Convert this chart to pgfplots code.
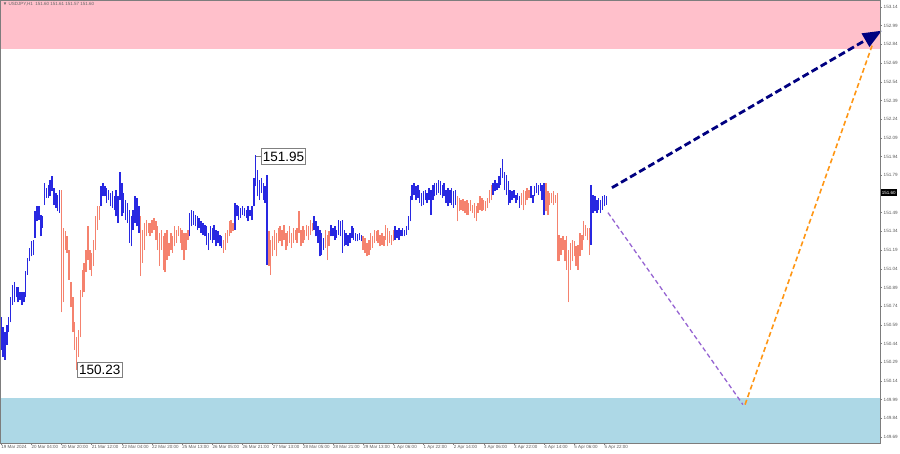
\documentclass[border=0pt]{standalone}
\usepackage{pgfplots}
\pgfplotsset{compat=1.18}
\usepackage{pgfplotstable}
\usepackage{fontspec}
\setmainfont{Liberation Sans}
\usetikzlibrary{arrows.meta}
\definecolor{barblue}{RGB}{40,40,225}
\definecolor{barsalmon}{RGB}{245,130,110}
\definecolor{zonepink}{RGB}{255,192,203}
\definecolor{zoneblue}{RGB}{173,216,230}
\definecolor{arrnavy}{RGB}{0,0,128}
\definecolor{arrpurple}{RGB}{150,100,210}
\definecolor{arrorange}{RGB}{255,150,20}
\definecolor{axgray}{RGB}{125,125,125}

\pgfplotstableread{
i l h
0 150.39 150.65
1 150.33 150.57
2 150.31 150.53
3 150.43 150.59
4 150.53 150.65
5 150.61 150.81
6 150.75 150.91
7 150.77 150.93
8 150.81 150.89
9 150.77 150.89
10 150.79 150.85
11 150.75 150.85
12 150.77 150.85
13 150.81 151.02
14 150.99 151.13
15 151.10 151.21
16 151.14 151.26
17 151.15 151.27
18 151.29 151.50
19 151.42 151.54
20 151.43 151.54
21 151.30 151.47
22 151.37 151.46
23 151.55 151.73
24 151.61 151.69
25 151.61 151.71
26 151.62 151.75
27 151.66 151.78
28 151.55 151.69
29 151.53 151.65
30 151.50 151.63
31 151.49 151.67
53 151.54 151.70
54 151.62 151.73
55 151.62 151.70
56 151.57 151.69
57 151.59 151.67
58 151.54 151.65
59 151.53 151.66
60 151.51 151.62
61 151.46 151.67
62 151.41 151.62
63 151.59 151.82
64 151.46 151.73
65 151.49 151.65
66 151.43 151.59
67 151.41 151.57
68 151.25 151.51
69 151.22 151.46
70 151.35 151.51
71 151.41 151.62
72 151.38 151.61
73 151.33 151.54
100 151.30 151.49
101 151.38 151.51
102 151.39 151.50
103 151.38 151.47
104 151.35 151.46
105 151.37 151.45
106 151.33 151.42
107 151.31 151.41
108 151.30 151.39
109 151.23 151.38
110 151.19 151.33
111 151.27 151.38
112 151.25 151.37
113 151.27 151.39
114 151.22 151.35
115 151.25 151.34
116 151.22 151.31
117 151.21 151.30
124 151.35 151.57
125 151.46 151.55
126 151.43 151.54
127 151.45 151.53
128 151.47 151.54
129 151.46 151.53
130 151.45 151.51
131 151.42 151.54
132 151.46 151.51
133 151.43 151.54
134 151.54 151.77
135 151.70 151.95
136 151.62 151.83
137 151.59 151.75
138 151.65 151.77
139 151.59 151.73
140 151.57 151.70
141 151.07 151.79
166 151.35 151.46
167 151.30 151.42
168 151.25 151.38
169 151.14 151.35
170 151.15 151.33
171 151.19 151.29
175 151.30 151.39
176 151.30 151.37
177 151.27 151.38
178 151.29 151.35
179 151.31 151.43
180 151.30 151.42
181 151.17 151.43
182 151.22 151.35
183 151.23 151.33
184 151.22 151.31
185 151.25 151.33
186 151.29 151.38
187 151.27 151.37
188 151.26 151.33
189 151.26 151.32
190 151.27 151.33
191 151.26 151.31
209 151.27 151.38
210 151.29 151.35
211 151.27 151.37
212 151.30 151.35
213 151.30 151.37
214 151.30 151.35
215 151.31 151.38
216 151.35 151.46
217 151.42 151.62
218 151.59 151.71
219 151.63 151.73
220 151.59 151.70
221 151.61 151.71
222 151.57 151.67
223 151.54 151.65
224 151.55 151.66
225 151.59 151.67
226 151.57 151.65
227 151.59 151.69
228 151.47 151.67
229 151.59 151.71
230 151.62 151.73
231 151.63 151.73
232 151.65 151.75
233 151.63 151.74
234 151.61 151.71
235 151.62 151.73
236 151.57 151.67
237 151.54 151.69
238 151.57 151.67
239 151.55 151.69
240 151.53 151.66
241 151.55 151.67
261 151.63 151.73
262 151.66 151.75
263 151.67 151.73
264 151.69 151.78
265 151.71 151.85
266 151.77 151.92
267 151.67 151.82
268 151.63 151.79
269 151.55 151.74
270 151.57 151.67
271 151.59 151.66
272 151.61 151.67
273 151.57 151.63
274 151.59 151.65
275 151.53 151.62
281 151.61 151.70
282 151.57 151.63
283 151.62 151.70
284 151.65 151.73
285 151.63 151.71
286 151.66 151.73
287 151.59 151.71
288 151.47 151.73
313 151.23 151.71
314 151.49 151.63
315 151.50 151.62
316 151.49 151.59
317 151.51 151.61
318 151.49 151.59
319 151.51 151.62
320 151.54 151.63
321 151.55 151.62
}\bluebars

\pgfplotstableread{
i l h
32 150.69 151.67
33 150.77 151.37
34 151.19 151.34
35 151.17 151.30
36 150.95 151.19
37 150.73 150.93
38 150.53 150.81
39 150.39 150.61
40 150.23 150.49
41 150.33 150.55
42 150.49 150.87
43 150.81 151.03
44 150.85 151.09
45 151.01 151.19
46 151.11 151.38
47 151.03 151.19
48 150.98 151.17
49 151.06 151.27
50 151.19 151.46
51 151.35 151.54
52 151.43 151.54
74 150.98 151.46
75 151.09 151.35
76 151.19 151.41
77 151.30 151.43
78 151.33 151.41
79 151.30 151.41
80 151.33 151.43
81 151.35 151.45
82 151.27 151.42
83 151.19 151.38
84 151.06 151.33
85 151.19 151.35
86 151.03 151.30
87 151.01 151.33
88 151.11 151.35
89 151.14 151.25
90 151.19 151.33
91 151.17 151.30
92 151.22 151.38
93 151.25 151.35
94 151.30 151.38
95 151.25 151.37
96 151.19 151.35
97 151.11 151.33
98 151.19 151.33
99 151.27 151.35
118 151.17 151.27
119 151.19 151.33
120 151.25 151.35
121 151.30 151.42
122 151.33 151.43
123 151.34 151.41
142 151.06 151.34
143 150.99 151.27
144 151.14 151.30
145 151.19 151.35
146 151.14 151.33
147 151.25 151.37
148 151.26 151.38
149 151.22 151.35
150 151.27 151.39
151 151.19 151.33
152 151.22 151.34
153 151.25 151.38
154 151.21 151.33
155 151.25 151.37
156 151.27 151.35
157 151.25 151.37
158 151.33 151.50
159 151.22 151.35
160 151.25 151.38
161 151.27 151.35
162 151.30 151.39
163 151.27 151.38
164 151.31 151.43
165 151.34 151.41
172 151.21 151.35
173 151.11 151.31
174 151.22 151.34
192 151.19 151.30
193 151.17 151.29
194 151.14 151.25
195 151.15 151.27
196 151.19 151.33
197 151.21 151.30
198 151.25 151.35
199 151.26 151.34
200 151.25 151.35
201 151.22 151.31
202 151.23 151.33
203 151.22 151.30
204 151.27 151.39
205 151.22 151.37
206 151.25 151.34
207 151.23 151.31
208 151.26 151.35
242 151.42 151.62
243 151.50 151.61
244 151.51 151.59
245 151.50 151.60
246 151.49 151.58
247 151.47 151.59
248 151.47 151.57
249 151.50 151.59
250 151.49 151.55
251 151.45 151.57
252 151.42 151.54
253 151.49 151.57
254 151.51 151.62
255 151.50 151.61
256 151.51 151.59
257 151.50 151.58
258 151.53 151.61
259 151.57 151.67
260 151.59 151.71
276 151.55 151.65
277 151.51 151.67
278 151.55 151.66
279 151.59 151.69
280 151.61 151.67
289 151.50 151.73
290 151.47 151.66
291 151.55 151.65
292 151.57 151.65
293 151.55 151.66
294 151.57 151.63
295 151.10 151.65
296 151.10 151.31
297 151.15 151.29
298 151.19 151.30
299 151.10 151.27
300 151.03 151.30
301 150.77 151.19
302 151.03 151.25
303 151.10 151.27
304 151.14 151.26
305 151.06 151.22
306 151.03 151.23
307 151.14 151.33
308 151.19 151.31
309 151.27 151.42
310 151.30 151.39
311 151.27 151.37
312 151.15 151.37
}\salmonbars

\newcommand{\drawbars}[2]{%
  \pgfplotstablegetrowsof{#1}%
  \pgfmathtruncatemacro{\nrows}{\pgfplotsretval-1}%
  \pgfplotsforeachungrouped \r in {0,...,\nrows}{%
    \pgfplotstablegetelem{\r}{i}\of{#1}\let\bi\pgfplotsretval
    \pgfplotstablegetelem{\r}{l}\of{#1}\let\bl\pgfplotsretval
    \pgfplotstablegetelem{\r}{h}\of{#1}\let\bh\pgfplotsretval
    \edef\tmp{\noexpand\addplot[#2, line width=1.45pt, mark=none, forget plot] coordinates {(\bi,\bl) (\bi,\bh)};}\tmp
  }%
}

\begin{document}
\begin{tikzpicture}
\path[use as bounding box] (0,0) rectangle (900pt,454pt);
\begin{axis}[
  at={(0pt,11pt)}, anchor=south west,
  scale only axis, width=880pt, height=443pt,
  xmin=-0.64, xmax=466.2, ymin=149.642, ymax=153.196,
  clip=false, axis on top,
  axis line style={axgray, line width=0.6pt},
  tick style={axgray, line width=0.4pt},
  tick align=outside, major tick length=2pt,
  xtick pos=bottom, ytick pos=right,
  xtick={0,16,...,320},
  xticklabels={19 Mar 2024,20 Mar 04:00,20 Mar 20:00,21 Mar 12:00,22 Mar 04:00,22 Mar 20:00,25 Mar 13:00,26 Mar 05:00,26 Mar 21:00,27 Mar 13:00,28 Mar 05:00,28 Mar 21:00,29 Mar 13:00,1 Apr 06:00,1 Apr 22:00,2 Apr 14:00,3 Apr 06:00,3 Apr 22:00,4 Apr 14:00,5 Apr 06:00,5 Apr 22:00},
  xticklabel style={font=\fontsize{4.5}{5}\selectfont, text=black!65, anchor=north west, inner sep=0.5pt, xshift=-0.5pt},
  ytick={149.69,149.84,149.99,150.14,150.29,150.44,150.59,150.74,150.89,151.04,151.19,151.34,151.49,151.79,151.94,152.09,152.24,152.39,152.54,152.69,152.84,152.99,153.14},
  yticklabels={149.69,149.84,149.99,150.14,150.29,150.44,150.59,150.74,150.89,151.04,151.19,151.34,151.49,151.79,151.94,152.09,152.24,152.39,152.54,152.69,152.84,152.99,153.14},
  yticklabel pos=right,
  yticklabel style={font=\fontsize{4.6}{5}\selectfont, text=black!65, anchor=west, inner sep=0.5pt, xshift=1pt},
]
% zones
\addplot[draw=none, fill=zonepink, forget plot] coordinates {(-0.64,152.803) (466.2,152.803) (466.2,153.196) (-0.64,153.196)};
\addplot[draw=none, fill=zoneblue, forget plot] coordinates {(-0.64,149.642) (466.2,149.642) (466.2,150.004) (-0.64,150.004)};
% bars (high-low ranges)
\drawbars{\bluebars}{barblue}
\drawbars{\salmonbars}{barsalmon}
% projections
\addplot[arrpurple, line width=1.3pt, dash pattern=on 4.5pt off 3pt] coordinates {(321.9,151.49) (393.5,149.95)};
\addplot[arrorange, line width=1.6pt, dash pattern=on 5pt off 3pt] coordinates {(394.6,149.95) (462,152.83)};
\addplot[arrnavy, line width=2.8pt, dash pattern=on 7pt off 3.5pt, -{Triangle[length=19pt,width=15pt]}] coordinates {(324,151.69) (467.2,152.95)};
% connector for label
\addplot[gray, line width=0.6pt] coordinates {(135.3,151.94) (137.8,151.94)};
\node[draw=gray, fill=white, line width=0.6pt, inner xsep=1.5pt, inner ysep=3pt, anchor=west, font=\fontsize{13.5}{14}\selectfont] at (axis cs:137.8,151.94) {151.95};
\node[draw=gray, fill=white, line width=0.6pt, inner xsep=1.5pt, inner ysep=3pt, anchor=west, font=\fontsize{13.5}{14}\selectfont] at (axis cs:40.4,150.23) {150.23};
% title
\node[anchor=west, inner sep=0pt, text=black!60, font=\fontsize{4.5}{5}\selectfont] at (axis cs:0.8,153.165) {▼ USDJPY,H1\ \ 151.60 151.61 151.57 151.60};
% current price
\node[fill=black, text=white, anchor=west, inner xsep=1pt, inner ysep=1.8pt, font=\fontsize{4.5}{5}\selectfont] at (axis cs:466.6,151.65) {151.60};
\end{axis}
\end{tikzpicture}
\end{document}
